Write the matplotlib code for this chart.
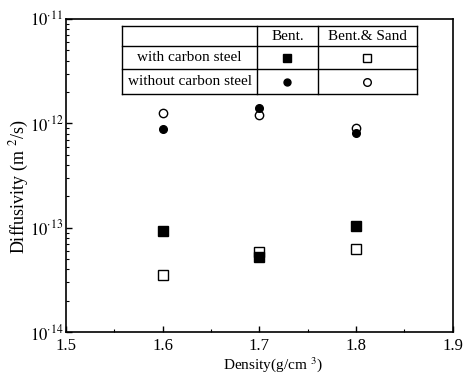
import matplotlib
matplotlib.use('Agg')
import matplotlib.pyplot as plt
import numpy as np

plt.rcParams['font.family'] = ['Liberation Serif', 'DejaVu Serif']
plt.rcParams['mathtext.fontset'] = 'stix'

# density (g/cm3)
density = [1.6, 1.7, 1.8]
# diffusivity (m2/s)
bent_with = [9.3e-14, 5.3e-14, 1.05e-13]
sand_with = [3.5e-14, 5.8e-14, 6.3e-14]
bent_without = [8.8e-13, 1.4e-12, 8.1e-13]
sand_without = [1.27e-12, 1.2e-12, 9.1e-13]

row_labels = ['with carbon steel', 'without carbon steel']
col_labels = ['Bent.', 'Bent.& Sand']

fig = plt.figure(figsize=(4.66, 3.74), dpi=100)
ax = fig.add_axes([0.1416, 0.112, 0.830, 0.837])

ax.plot(density, sand_without, 'o', mfc='white', mec='black', ms=6, mew=1)
ax.plot(density, bent_without, 'o', mfc='black', mec='black', ms=5.5, mew=1)
ax.plot(density, sand_with, 's', mfc='white', mec='black', ms=6.5, mew=1)
ax.plot(density, bent_with, 's', mfc='black', mec='black', ms=6.5, mew=1)

ax.set_yscale('log')
ax.set_xlim(1.5, 1.9)
ax.set_ylim(1e-14, 1e-11)
ax.set_xticks([1.5, 1.6, 1.7, 1.8, 1.9])
ax.set_xticklabels(['1.5', '1.6', '1.7', '1.8', '1.9'])
ax.set_xticks([1.55, 1.65, 1.75, 1.85], minor=True)
ax.set_yticks([1e-14, 1e-13, 1e-12, 1e-11])
ax.set_yticklabels([r'$10^{\cdot 14}$', r'$10^{\cdot 13}$', r'$10^{\cdot 12}$', r'$10^{\cdot 11}$'])
ax.tick_params(which='both', direction='in', top=False, right=False, labelsize=12)
ax.tick_params(which='major', length=4, width=1)
ax.tick_params(which='minor', length=2, width=0.8)
ax.tick_params(axis='y', pad=2)
ax.tick_params(axis='x', pad=4)
for s in ax.spines.values():
    s.set_linewidth(1.2)

ax.set_xlabel(r'Density(g/cm $^3$)', fontsize=11)
ax.xaxis.set_label_coords(0.535, -0.072)
ax.set_ylabel(r'Diffusivity (m $^2$/s)', fontsize=13)
ax.yaxis.set_label_coords(-0.09, 0.466)

# table inset (axes fraction)
xs = [0.145, 0.494, 0.651, 0.907]
ys = [0.978, 0.913, 0.840, 0.760]
tr = ax.transAxes
for y in ys:
    ax.plot([xs[0], xs[-1]], [y, y], color='black', lw=1, transform=tr)
for x in xs:
    ax.plot([x, x], [ys[0], ys[-1]], color='black', lw=1, transform=tr)
for j, lab in enumerate(col_labels):
    ax.text((xs[j + 1] + xs[j + 2]) / 2, (ys[0] + ys[1]) / 2, lab, transform=tr,
            ha='center', va='center', fontsize=11)
for i, lab in enumerate(row_labels):
    ax.text((xs[0] + xs[1]) / 2, (ys[i + 1] + ys[i + 2]) / 2, lab, transform=tr,
            ha='center', va='center', fontsize=11)
cx1 = (xs[1] + xs[2]) / 2
cx2 = (xs[2] + xs[3]) / 2
r1 = (ys[1] + ys[2]) / 2
r2 = (ys[2] + ys[3]) / 2
ax.plot([cx1], [r1], 's', mfc='black', mec='black', ms=6, transform=tr)
ax.plot([cx2], [r1], 's', mfc='white', mec='black', ms=6, transform=tr)
ax.plot([cx1], [r2], 'o', mfc='black', mec='black', ms=5, transform=tr)
ax.plot([cx2], [r2], 'o', mfc='white', mec='black', ms=5.5, transform=tr)

fig.savefig('out.png', dpi=100)
